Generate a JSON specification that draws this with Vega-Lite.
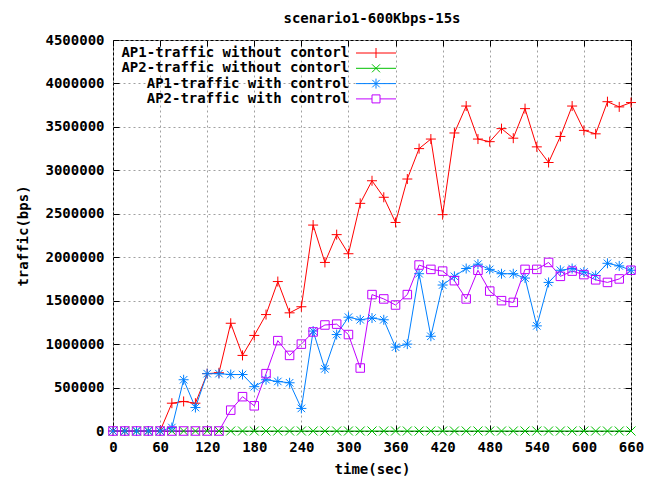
{
"$schema": "https://vega.github.io/schema/vega-lite/v6.json",
"width": 518, "height": 391,
"autosize": "none",
"padding": {"left": 113, "top": 40, "right": 23, "bottom": 49},
"background": "white",
"title": {"text": "scenario1-600Kbps-15s", "frame": "group", "anchor": "middle", "font": "DejaVu Sans Mono", "fontSize": 14, "fontWeight": "bold", "color": "black", "offset": 7},
"config": {"view": {"stroke": "black", "strokeWidth": 1}, "font": "DejaVu Sans Mono",
"legend": {"orient": "none", "legendX": 256, "legendY": 6, "title": null, "symbolSize": 100, "symbolStrokeWidth": 1, "symbolOpacity": 1, "symbolFillColor": "transparent", "labelAlign": "right", "labelOffset": -34, "labelFont": "DejaVu Sans Mono", "labelFontSize": 14, "labelFontWeight": "bold", "labelColor": "black", "labelLimit": 400, "rowPadding": 1.3, "padding": 0}},
"data": {"values": [
{"t":0,"s":"AP1-traffic without contorl","v":0},{"t":15,"s":"AP1-traffic without contorl","v":0},{"t":30,"s":"AP1-traffic without contorl","v":0},{"t":45,"s":"AP1-traffic without contorl","v":0},{"t":60,"s":"AP1-traffic without contorl","v":0},{"t":75,"s":"AP1-traffic without contorl","v":320000},{"t":90,"s":"AP1-traffic without contorl","v":340000},{"t":105,"s":"AP1-traffic without contorl","v":320000},{"t":120,"s":"AP1-traffic without contorl","v":660000},{"t":135,"s":"AP1-traffic without contorl","v":670000},{"t":150,"s":"AP1-traffic without contorl","v":1240000},{"t":165,"s":"AP1-traffic without contorl","v":870000},{"t":180,"s":"AP1-traffic without contorl","v":1100000},{"t":195,"s":"AP1-traffic without contorl","v":1340000},{"t":210,"s":"AP1-traffic without contorl","v":1720000},{"t":225,"s":"AP1-traffic without contorl","v":1360000},{"t":240,"s":"AP1-traffic without contorl","v":1430000},{"t":255,"s":"AP1-traffic without contorl","v":2370000},{"t":270,"s":"AP1-traffic without contorl","v":1940000},{"t":285,"s":"AP1-traffic without contorl","v":2260000},{"t":300,"s":"AP1-traffic without contorl","v":2040000},{"t":315,"s":"AP1-traffic without contorl","v":2620000},{"t":330,"s":"AP1-traffic without contorl","v":2880000},{"t":345,"s":"AP1-traffic without contorl","v":2690000},{"t":360,"s":"AP1-traffic without contorl","v":2400000},{"t":375,"s":"AP1-traffic without contorl","v":2900000},{"t":390,"s":"AP1-traffic without contorl","v":3250000},{"t":405,"s":"AP1-traffic without contorl","v":3360000},{"t":420,"s":"AP1-traffic without contorl","v":2490000},{"t":435,"s":"AP1-traffic without contorl","v":3430000},{"t":450,"s":"AP1-traffic without contorl","v":3740000},{"t":465,"s":"AP1-traffic without contorl","v":3360000},{"t":480,"s":"AP1-traffic without contorl","v":3330000},{"t":495,"s":"AP1-traffic without contorl","v":3480000},{"t":510,"s":"AP1-traffic without contorl","v":3370000},{"t":525,"s":"AP1-traffic without contorl","v":3710000},{"t":540,"s":"AP1-traffic without contorl","v":3270000},{"t":555,"s":"AP1-traffic without contorl","v":3090000},{"t":570,"s":"AP1-traffic without contorl","v":3390000},{"t":585,"s":"AP1-traffic without contorl","v":3740000},{"t":600,"s":"AP1-traffic without contorl","v":3460000},{"t":615,"s":"AP1-traffic without contorl","v":3420000},{"t":630,"s":"AP1-traffic without contorl","v":3790000},{"t":645,"s":"AP1-traffic without contorl","v":3730000},{"t":660,"s":"AP1-traffic without contorl","v":3780000},
{"t":0,"s":"AP2-traffic without contorl","v":0},{"t":15,"s":"AP2-traffic without contorl","v":0},{"t":30,"s":"AP2-traffic without contorl","v":0},{"t":45,"s":"AP2-traffic without contorl","v":0},{"t":60,"s":"AP2-traffic without contorl","v":0},{"t":75,"s":"AP2-traffic without contorl","v":0},{"t":90,"s":"AP2-traffic without contorl","v":0},{"t":105,"s":"AP2-traffic without contorl","v":0},{"t":120,"s":"AP2-traffic without contorl","v":0},{"t":135,"s":"AP2-traffic without contorl","v":0},{"t":150,"s":"AP2-traffic without contorl","v":0},{"t":165,"s":"AP2-traffic without contorl","v":0},{"t":180,"s":"AP2-traffic without contorl","v":0},{"t":195,"s":"AP2-traffic without contorl","v":0},{"t":210,"s":"AP2-traffic without contorl","v":0},{"t":225,"s":"AP2-traffic without contorl","v":0},{"t":240,"s":"AP2-traffic without contorl","v":0},{"t":255,"s":"AP2-traffic without contorl","v":0},{"t":270,"s":"AP2-traffic without contorl","v":0},{"t":285,"s":"AP2-traffic without contorl","v":0},{"t":300,"s":"AP2-traffic without contorl","v":0},{"t":315,"s":"AP2-traffic without contorl","v":0},{"t":330,"s":"AP2-traffic without contorl","v":0},{"t":345,"s":"AP2-traffic without contorl","v":0},{"t":360,"s":"AP2-traffic without contorl","v":0},{"t":375,"s":"AP2-traffic without contorl","v":0},{"t":390,"s":"AP2-traffic without contorl","v":0},{"t":405,"s":"AP2-traffic without contorl","v":0},{"t":420,"s":"AP2-traffic without contorl","v":0},{"t":435,"s":"AP2-traffic without contorl","v":0},{"t":450,"s":"AP2-traffic without contorl","v":0},{"t":465,"s":"AP2-traffic without contorl","v":0},{"t":480,"s":"AP2-traffic without contorl","v":0},{"t":495,"s":"AP2-traffic without contorl","v":0},{"t":510,"s":"AP2-traffic without contorl","v":0},{"t":525,"s":"AP2-traffic without contorl","v":0},{"t":540,"s":"AP2-traffic without contorl","v":0},{"t":555,"s":"AP2-traffic without contorl","v":0},{"t":570,"s":"AP2-traffic without contorl","v":0},{"t":585,"s":"AP2-traffic without contorl","v":0},{"t":600,"s":"AP2-traffic without contorl","v":0},{"t":615,"s":"AP2-traffic without contorl","v":0},{"t":630,"s":"AP2-traffic without contorl","v":0},{"t":645,"s":"AP2-traffic without contorl","v":0},{"t":660,"s":"AP2-traffic without contorl","v":0},
{"t":0,"s":"AP1-traffic with control","v":0},{"t":15,"s":"AP1-traffic with control","v":0},{"t":30,"s":"AP1-traffic with control","v":0},{"t":45,"s":"AP1-traffic with control","v":0},{"t":60,"s":"AP1-traffic with control","v":0},{"t":75,"s":"AP1-traffic with control","v":40000},{"t":90,"s":"AP1-traffic with control","v":590000},{"t":105,"s":"AP1-traffic with control","v":270000},{"t":120,"s":"AP1-traffic with control","v":660000},{"t":135,"s":"AP1-traffic with control","v":660000},{"t":150,"s":"AP1-traffic with control","v":650000},{"t":165,"s":"AP1-traffic with control","v":650000},{"t":180,"s":"AP1-traffic with control","v":510000},{"t":195,"s":"AP1-traffic with control","v":590000},{"t":210,"s":"AP1-traffic with control","v":570000},{"t":225,"s":"AP1-traffic with control","v":555000},{"t":240,"s":"AP1-traffic with control","v":260000},{"t":255,"s":"AP1-traffic with control","v":1150000},{"t":270,"s":"AP1-traffic with control","v":715000},{"t":285,"s":"AP1-traffic with control","v":1110000},{"t":300,"s":"AP1-traffic with control","v":1310000},{"t":315,"s":"AP1-traffic with control","v":1280000},{"t":330,"s":"AP1-traffic with control","v":1300000},{"t":345,"s":"AP1-traffic with control","v":1280000},{"t":360,"s":"AP1-traffic with control","v":965000},{"t":375,"s":"AP1-traffic with control","v":1000000},{"t":390,"s":"AP1-traffic with control","v":1810000},{"t":405,"s":"AP1-traffic with control","v":1090000},{"t":420,"s":"AP1-traffic with control","v":1680000},{"t":435,"s":"AP1-traffic with control","v":1780000},{"t":450,"s":"AP1-traffic with control","v":1870000},{"t":465,"s":"AP1-traffic with control","v":1920000},{"t":480,"s":"AP1-traffic with control","v":1860000},{"t":495,"s":"AP1-traffic with control","v":1810000},{"t":510,"s":"AP1-traffic with control","v":1810000},{"t":525,"s":"AP1-traffic with control","v":1760000},{"t":540,"s":"AP1-traffic with control","v":1210000},{"t":555,"s":"AP1-traffic with control","v":1710000},{"t":570,"s":"AP1-traffic with control","v":1850000},{"t":585,"s":"AP1-traffic with control","v":1870000},{"t":600,"s":"AP1-traffic with control","v":1830000},{"t":615,"s":"AP1-traffic with control","v":1790000},{"t":630,"s":"AP1-traffic with control","v":1930000},{"t":645,"s":"AP1-traffic with control","v":1900000},{"t":660,"s":"AP1-traffic with control","v":1850000},
{"t":0,"s":"AP2-traffic with control","v":0},{"t":15,"s":"AP2-traffic with control","v":0},{"t":30,"s":"AP2-traffic with control","v":0},{"t":45,"s":"AP2-traffic with control","v":0},{"t":60,"s":"AP2-traffic with control","v":0},{"t":75,"s":"AP2-traffic with control","v":0},{"t":90,"s":"AP2-traffic with control","v":0},{"t":105,"s":"AP2-traffic with control","v":0},{"t":120,"s":"AP2-traffic with control","v":0},{"t":135,"s":"AP2-traffic with control","v":0},{"t":150,"s":"AP2-traffic with control","v":240000},{"t":165,"s":"AP2-traffic with control","v":395000},{"t":180,"s":"AP2-traffic with control","v":290000},{"t":195,"s":"AP2-traffic with control","v":660000},{"t":210,"s":"AP2-traffic with control","v":1040000},{"t":225,"s":"AP2-traffic with control","v":870000},{"t":240,"s":"AP2-traffic with control","v":1000000},{"t":255,"s":"AP2-traffic with control","v":1140000},{"t":270,"s":"AP2-traffic with control","v":1220000},{"t":285,"s":"AP2-traffic with control","v":1230000},{"t":300,"s":"AP2-traffic with control","v":1110000},{"t":315,"s":"AP2-traffic with control","v":725000},{"t":330,"s":"AP2-traffic with control","v":1570000},{"t":345,"s":"AP2-traffic with control","v":1520000},{"t":360,"s":"AP2-traffic with control","v":1450000},{"t":375,"s":"AP2-traffic with control","v":1570000},{"t":390,"s":"AP2-traffic with control","v":1910000},{"t":405,"s":"AP2-traffic with control","v":1860000},{"t":420,"s":"AP2-traffic with control","v":1840000},{"t":435,"s":"AP2-traffic with control","v":1730000},{"t":450,"s":"AP2-traffic with control","v":1520000},{"t":465,"s":"AP2-traffic with control","v":1850000},{"t":480,"s":"AP2-traffic with control","v":1610000},{"t":495,"s":"AP2-traffic with control","v":1500000},{"t":510,"s":"AP2-traffic with control","v":1480000},{"t":525,"s":"AP2-traffic with control","v":1860000},{"t":540,"s":"AP2-traffic with control","v":1860000},{"t":555,"s":"AP2-traffic with control","v":1940000},{"t":570,"s":"AP2-traffic with control","v":1780000},{"t":585,"s":"AP2-traffic with control","v":1840000},{"t":600,"s":"AP2-traffic with control","v":1800000},{"t":615,"s":"AP2-traffic with control","v":1740000},{"t":630,"s":"AP2-traffic with control","v":1710000},{"t":645,"s":"AP2-traffic with control","v":1750000},{"t":660,"s":"AP2-traffic with control","v":1850000}
]},
"layer": [
{
"mark": {"type": "line", "strokeWidth": 1},
"encoding": {
"x": {"field": "t", "type": "quantitative", "scale": {"domain": [0, 660], "nice": false, "zero": false},
"axis": {"orient": "bottom", "title": "time(sec)", "values": [0,60,120,180,240,300,360,420,480,540,600,660], "domain": false, "tickSize": -6, "tickColor": "black", "grid": true, "gridColor": "#a0a0a0", "gridDash": [2,3], "gridWidth": 1, "labelFont": "DejaVu Sans Mono", "labelFontSize": 14, "labelFontWeight": "bold", "labelColor": "black", "labelPadding": 15, "labelFlush": false, "titleFont": "DejaVu Sans Mono", "titleFontSize": 14, "titleFontWeight": "bold", "titleColor": "black", "titlePadding": 8}},
"y": {"field": "v", "type": "quantitative", "scale": {"domain": [0, 4500000], "nice": false},
"axis": {"orient": "left", "title": "traffic(bps)", "values": [0,500000,1000000,1500000,2000000,2500000,3000000,3500000,4000000,4500000], "format": "d", "domain": false, "tickSize": -6, "tickColor": "black", "grid": true, "gridColor": "#a0a0a0", "gridDash": [2,3], "gridWidth": 1, "labelFont": "DejaVu Sans Mono", "labelFontSize": 14, "labelFontWeight": "bold", "labelColor": "black", "labelPadding": 15, "labelFlush": false, "titleFont": "DejaVu Sans Mono", "titleFontSize": 14, "titleFontWeight": "bold", "titleColor": "black", "titlePadding": 14}},
"color": {"field": "s", "type": "nominal", "scale": {"domain": ["AP1-traffic without contorl", "AP2-traffic without contorl", "AP1-traffic with control", "AP2-traffic with control"], "range": ["#ff0000", "#00c000", "#0080ff", "#c000ff"]}}
}
},
{
"mark": {"type": "point", "filled": false, "size": 100, "strokeWidth": 1, "opacity": 0},
"encoding": {
"x": {"field": "t", "type": "quantitative", "axis": {"orient": "top", "title": null, "labels": false, "domain": false, "grid": false, "tickSize": -6, "tickColor": "black", "values": [0,60,120,180,240,300,360,420,480,540,600,660]}},
"y": {"field": "v", "type": "quantitative", "axis": {"orient": "right", "title": null, "labels": false, "domain": false, "grid": false, "tickSize": -6, "tickColor": "black", "values": [0,500000,1000000,1500000,2000000,2500000,3000000,3500000,4000000,4500000]}},
"color": {"field": "s", "type": "nominal"},
"shape": {"field": "s", "type": "nominal",
"scale": {"domain": ["AP1-traffic without contorl", "AP2-traffic without contorl", "AP1-traffic with control", "AP2-traffic with control"],
"range": ["M-4,0H4M0,-1V1", "M-4,0H4M-0.8,-0.8L0.8,0.8M-0.8,0.8L0.8,-0.8", "M-4,0H4M0,-1V1M-0.75,-0.75L0.75,0.75M-0.75,0.75L0.75,-0.75", "M-4,0H-0.8M0.8,0H4M-0.8,-0.8H0.8V0.8H-0.8Z"]}}
}
},
{
"transform": [{"filter": {"field": "s", "equal": "AP1-traffic without contorl"}}],
"mark": {"type": "point", "shape": "M-1,0H1M0,-1V1", "filled": false, "color": "#ff0000", "size": 100, "strokeWidth": 1, "opacity": 1},
"encoding": {"x": {"field": "t", "type": "quantitative", "axis": null}, "y": {"field": "v", "type": "quantitative", "axis": null}}
},
{
"transform": [{"filter": {"field": "s", "equal": "AP2-traffic without contorl"}}],
"mark": {"type": "point", "shape": "M-1,-1L1,1M-1,1L1,-1", "filled": false, "color": "#00c000", "size": 81, "strokeWidth": 1, "opacity": 1},
"encoding": {"x": {"field": "t", "type": "quantitative", "axis": null}, "y": {"field": "v", "type": "quantitative", "axis": null}}
},
{
"transform": [{"filter": {"field": "s", "equal": "AP1-traffic with control"}}],
"mark": {"type": "point", "shape": "M-1,0H1M0,-1V1M-0.75,-0.75L0.75,0.75M-0.75,0.75L0.75,-0.75", "filled": false, "color": "#0080ff", "size": 100, "strokeWidth": 1, "opacity": 1},
"encoding": {"x": {"field": "t", "type": "quantitative", "axis": null}, "y": {"field": "v", "type": "quantitative", "axis": null}}
},
{
"transform": [{"filter": {"field": "s", "equal": "AP2-traffic with control"}}],
"mark": {"type": "point", "shape": "M-0.85,-0.85H0.85V0.85H-0.85Z", "filled": false, "color": "#c000ff", "size": 100, "strokeWidth": 1, "opacity": 1},
"encoding": {"x": {"field": "t", "type": "quantitative", "axis": null}, "y": {"field": "v", "type": "quantitative", "axis": null}}
}
],
"resolve": {"axis": {"x": "independent", "y": "independent"}}
}
